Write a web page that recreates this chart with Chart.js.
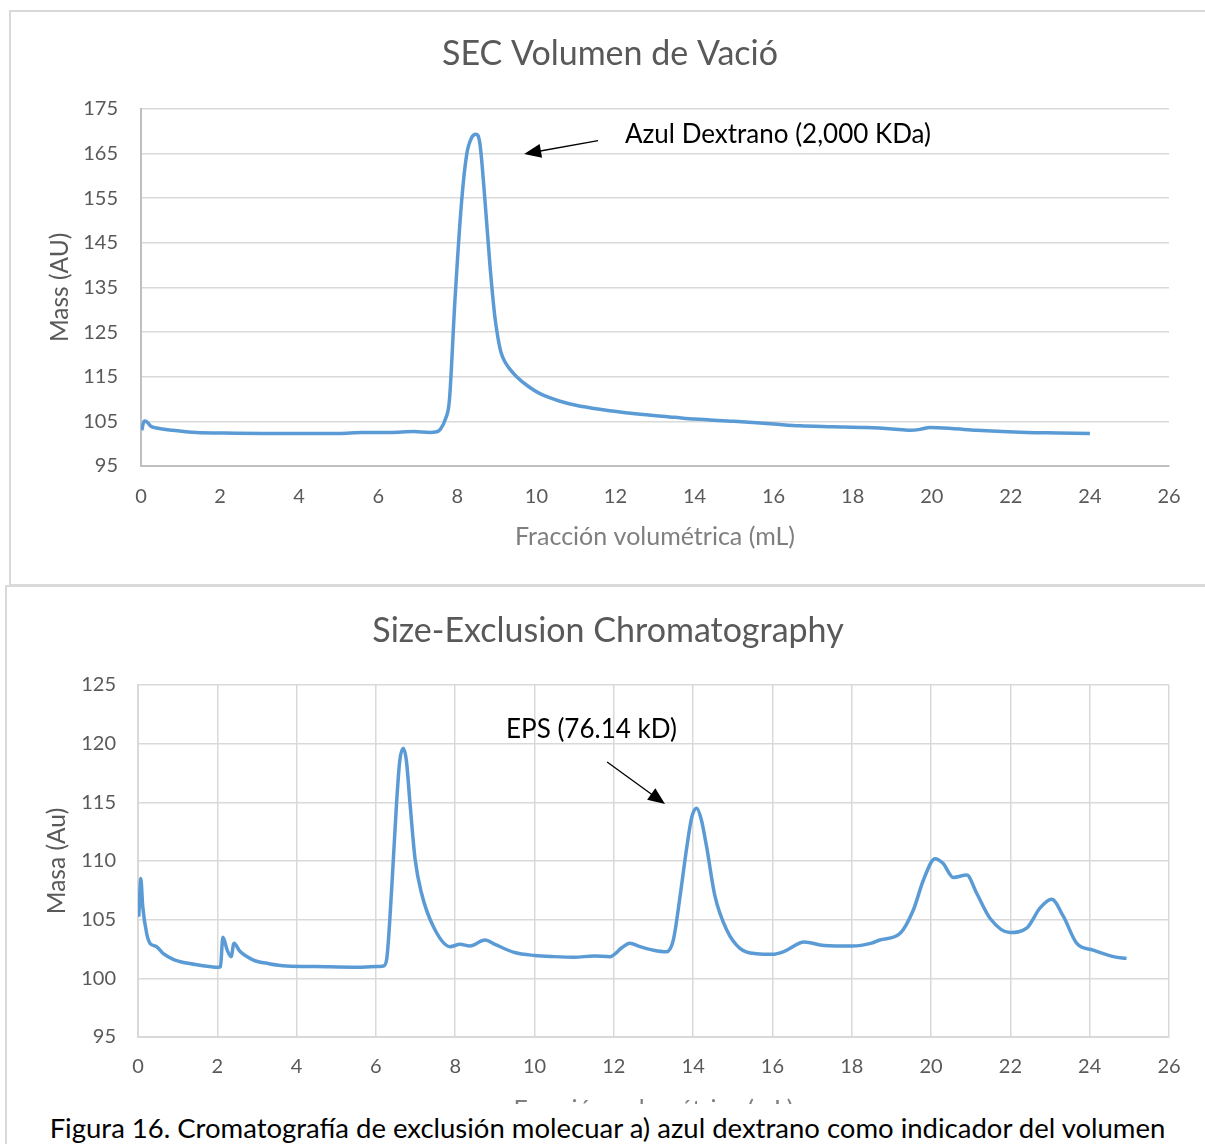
<!DOCTYPE html>
<html>
<head>
<meta charset="utf-8">
<script src="https://cdn.jsdelivr.net/npm/chart.js@4.4.1/dist/chart.umd.min.js"></script>
<style>
  html, body { margin: 0; padding: 0; background: #fff; }
  body { width: 1205px; height: 1144px; position: relative; overflow: hidden; font-family: Lato, "Noto Sans", sans-serif; }
  .panel { position: absolute; border: 2px solid #d9d9d9; background: #fff; box-sizing: border-box; }
  canvas { position: absolute; left: 0; }
  .note { position: absolute; color: #000; font-size: 26px; line-height: 30px; white-space: nowrap; }
  #caption { position: absolute; left: 10px; top: 1104px; width: 1195px; height: 40px; background: #fff;
             text-align: center; font-size: 27.5px; line-height: 47px; color: #000; white-space: nowrap; }
</style>
</head>
<body>
<div class="panel" style="left:9px; top:10px; width:1210px; height:576px;"></div>
<div class="panel" style="left:5px; top:585px; width:1210px; height:580px;"></div>
<canvas id="c1" width="1205" height="574" style="top:10px"></canvas>
<canvas id="c2" width="1205" height="559" style="top:585px"></canvas>
<div class="note" style="left:625px; top:118px;">Azul Dextrano (2,000 KDa)</div>
<div class="note" style="left:506px; top:713px;">EPS (76.14 kD)</div>
<div id="caption">Figura 16. Cromatografía de exclusión molecuar a) azul dextrano como indicador del volumen</div>
<script>
// ---- Data: chart a) SEC Volumen de Vació ----
const topTitle = "SEC Volumen de Vació";
const topXLabel = "Fracción volumétrica (mL)";
const topYLabel = "Mass (AU)";
const topVolume = [0.02, 0.08, 0.15, 0.25, 0.4, 0.8, 1.41, 2.0, 3.1, 4.0, 5.0, 5.6, 6.3, 6.9, 7.3, 7.45, 7.57, 7.7, 7.8, 7.94, 8.11, 8.24, 8.36, 8.47, 8.57, 8.70, 8.83, 8.95, 9.03, 9.10, 9.2, 9.33, 9.5, 9.8, 10.09, 10.6, 11.0, 11.6, 12.5, 13.5, 14.0, 15.0, 16.0, 16.67, 17.5, 18.35, 19.0, 19.45, 19.7, 19.95, 20.5, 21.13, 22.4, 23.2, 24.0];
const topMass   = [103.0, 105.1, 104.9, 103.9, 103.5, 103.0, 102.5, 102.4, 102.3, 102.3, 102.3, 102.5, 102.5, 102.7, 102.5, 102.6, 103.2, 105.5, 109.7, 132.1, 154.4, 164.9, 168.5, 169.3, 167.3, 154.4, 139.5, 128.4, 123.6, 120.6, 118.4, 116.7, 115.0, 112.8, 111.2, 109.5, 108.6, 107.7, 106.7, 105.9, 105.5, 105.0, 104.4, 104.0, 103.8, 103.6, 103.3, 103.0, 103.2, 103.6, 103.4, 103.0, 102.5, 102.4, 102.3];
const topYTicks = [95, 175, 10];   // min, max, step

// ---- Data: chart b) Size-Exclusion Chromatography ----
const botTitle = "Size-Exclusion Chromatography";
const botXLabel = "Fracción volumétrica (mL)";
const botYLabel = "Masa (Au)";
const botVolume = [0.02, 0.07, 0.12, 0.22, 0.30, 0.47, 0.64, 0.9, 1.23, 1.6, 2.03, 2.08, 2.14, 2.25, 2.35, 2.42, 2.57, 2.91, 3.3, 3.75, 4.5, 5.43, 6.0, 6.19, 6.27, 6.40, 6.52, 6.60, 6.69, 6.77, 6.86, 6.99, 7.15, 7.45, 7.87, 8.12, 8.37, 8.75, 9.0, 9.5, 10.0, 10.5, 11.0, 11.5, 11.9, 12.2, 12.4, 12.66, 13.0, 13.33, 13.50, 13.67, 13.84, 13.97, 14.09, 14.2, 14.34, 14.55, 14.85, 15.18, 15.6, 16.0, 16.3, 16.8, 17.3, 18.0, 18.5, 18.71, 19.22, 19.55, 19.81, 20.1, 20.3, 20.56, 20.9, 21.15, 21.49, 21.99, 22.41, 22.75, 23.04, 23.34, 23.67, 24.09, 24.6, 24.93];
const botMass   = [105.25, 108.5, 106.1, 103.8, 103.0, 102.7, 102.1, 101.6, 101.3, 101.1, 100.95, 101.0, 103.5, 102.4, 101.85, 103.0, 102.3, 101.56, 101.25, 101.05, 101.0, 100.95, 101.0, 101.05, 101.6, 107.8, 114.9, 118.5, 119.6, 118.5, 114.9, 110.1, 107.25, 104.4, 102.7, 102.9, 102.76, 103.27, 102.9, 102.2, 101.95, 101.85, 101.8, 101.9, 101.85, 102.6, 103.0, 102.7, 102.4, 102.27, 103.27, 107.0, 111.2, 113.8, 114.5, 113.6, 111.2, 107.0, 104.1, 102.56, 102.1, 102.05, 102.3, 103.1, 102.8, 102.75, 103.0, 103.27, 103.84, 105.8, 108.4, 110.2, 109.8, 108.6, 108.8, 107.25, 105.1, 103.9, 104.27, 106.0, 106.74, 105.25, 103.0, 102.4, 101.85, 101.7];
const botYTicks = [95, 125, 5];
const xTicks = [0, 26, 2];

// annotation arrows (data coordinates: from -> to)
const topArrow = [[11.56, 167.85], [9.69, 164.9]];
const botArrow = [[11.83, 118.44], [13.29, 114.86]];

const FONT = 'Lato';
Chart.defaults.font.family = FONT;

function toPoints(xs, ys) { return xs.map((x, i) => ({x: x, y: ys[i]})); }

function arrowPlugin(arrow) {
  return {
    id: 'arrow',
    afterDraw(chart) {
      const ctx = chart.ctx, xs = chart.scales.x, ys = chart.scales.y;
      const x1 = xs.getPixelForValue(arrow[0][0]), y1 = ys.getPixelForValue(arrow[0][1]);
      const x2 = xs.getPixelForValue(arrow[1][0]), y2 = ys.getPixelForValue(arrow[1][1]);
      const ang = Math.atan2(y2 - y1, x2 - x1);
      const L = 17, W = 7;
      ctx.save();
      ctx.strokeStyle = '#000'; ctx.fillStyle = '#000'; ctx.lineWidth = 1.3;
      ctx.beginPath(); ctx.moveTo(x1, y1);
      ctx.lineTo(x2 - Math.cos(ang) * L * 0.8, y2 - Math.sin(ang) * L * 0.8); ctx.stroke();
      ctx.beginPath();
      ctx.moveTo(x2, y2);
      ctx.lineTo(x2 - Math.cos(ang) * L - Math.sin(ang) * W, y2 - Math.sin(ang) * L + Math.cos(ang) * W);
      ctx.lineTo(x2 - Math.cos(ang) * L + Math.sin(ang) * W, y2 - Math.sin(ang) * L - Math.cos(ang) * W);
      ctx.closePath(); ctx.fill();
      ctx.restore();
    }
  };
}

function makeChart(id, cfg) {
  return new Chart(document.getElementById(id), {
    type: 'line',
    data: { datasets: [{
      data: toPoints(cfg.xs, cfg.ys),
      borderColor: '#5b9bd5', borderWidth: 3.5, pointRadius: 0,
      cubicInterpolationMode: 'monotone', fill: false
    }]},
    options: {
      responsive: false, animation: false, devicePixelRatio: 1,
      layout: { padding: { left: cfg.padLeft, right: 36, top: 0, bottom: 0 } },
      plugins: {
        legend: { display: false }, tooltip: { enabled: false },
        title: { display: true, text: cfg.title, color: '#595959',
                 font: { size: 34, weight: 'normal', family: FONT, lineHeight: 1.2 },
                 padding: { top: cfg.titlePad[0], bottom: cfg.titlePad[1] } }
      },
      scales: {
        x: {
          type: 'linear', min: xTicks[0], max: xTicks[1],
          ticks: { stepSize: xTicks[2], color: '#595959', font: { size: 20 }, padding: cfg.xTickPad, maxRotation: 0 },
          grid: { display: true, color: cfg.xGrid, lineWidth: 1.5, drawTicks: false },
          border: { display: true, color: cfg.xBorder, width: 2 },
          title: { display: true, text: cfg.xLabel, color: '#7f7f7f', font: { size: 25, lineHeight: 1.2 },
                   padding: { top: 0, bottom: cfg.xTitlePad } },
          afterFit: s => { s.height = cfg.xHeight; }
        },
        y: {
          min: cfg.yt[0], max: cfg.yt[1],
          ticks: { stepSize: cfg.yt[2], color: '#595959', font: { size: 20 }, padding: cfg.yTickPad },
          grid: { color: '#d9d9d9', lineWidth: 1.5, drawTicks: false },
          border: { display: true, color: cfg.yBorder, width: 2 },
          title: { display: true, text: cfg.yLabel, color: '#595959', font: { size: 24.5, lineHeight: 1.0 },
                   padding: { top: cfg.yTitlePad, bottom: 0 } },
          afterFit: s => { s.width = cfg.yWidth; }
        }
      }
    },
    plugins: [arrowPlugin(cfg.arrow)]
  });
}

makeChart('c1', {
  xs: topVolume, ys: topMass, title: topTitle, xLabel: topXLabel, yLabel: topYLabel, yt: topYTicks,
  padLeft: 51, titlePad: [23.4, 34.6], xTickPad: 19, xTitlePad: 32, xHeight: 118,
  yTickPad: 23, yTitlePad: -3.3, yWidth: 90, xGrid: 'rgba(0,0,0,0)', xBorder: '#bfbfbf', yBorder: '#bfbfbf',
  arrow: topArrow
});
makeChart('c2', {
  xs: botVolume, ys: botMass, title: botTitle, xLabel: botXLabel, yLabel: botYLabel, yt: botYTicks,
  padLeft: 47, titlePad: [25.6, 33.6], xTickPad: 18, xTitlePad: 19, xHeight: 107,
  yTickPad: 22, yTitlePad: -2.3, yWidth: 91, xGrid: '#d9d9d9', xBorder: '#d9d9d9', yBorder: '#d9d9d9',
  arrow: botArrow
});
</script>
</body>
</html>
